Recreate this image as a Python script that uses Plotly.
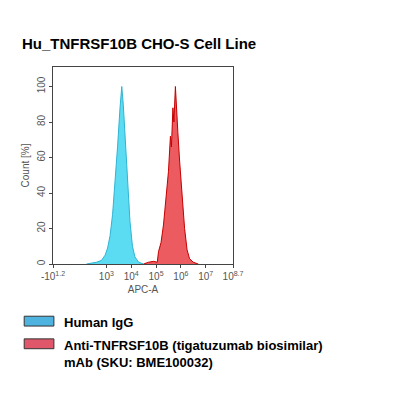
import plotly.graph_objects as go

# x is in decade units of the biexponential display (3 -> 10^3)
igg_x = [2.2, 2.4, 2.6, 2.8, 2.95, 3.05, 3.15, 3.25, 3.35, 3.45, 3.55, 3.62, 3.68, 3.75, 3.85, 3.95, 4.05, 4.15, 4.3, 4.5]
igg_y = [0, 0.5, 1, 2, 5, 9, 16, 28, 45, 66, 88, 100, 90, 72, 45, 24, 10, 4, 1, 0]

anti_x = [4.5, 4.7, 4.9, 5.05, 5.1, 5.2, 5.3, 5.4, 5.5, 5.58, 5.62, 5.68, 5.72, 5.78, 5.82, 5.88, 5.95, 6.05, 6.15, 6.25, 6.35, 6.5, 6.7]
anti_y = [0, 1, 1.5, 1, 7, 12, 22, 36, 52, 72, 66, 88, 80, 100, 86, 74, 58, 38, 20, 8, 3, 1, 0]

tick_vals = [0.85, 3, 4, 5, 6, 7, 8.1]
tick_text = ["-10<sup>1.2</sup>", "10<sup>3</sup>", "10<sup>4</sup>", "10<sup>5</sup>",
             "10<sup>6</sup>", "10<sup>7</sup>", "10<sup>8.7</sup>"]

legend_names = ["Human IgG", "Anti-TNFRSF10B (tigatuzumab biosimilar)<br>mAb (SKU: BME100032)"]
legend_colors = ["#4fb3e0", "#e0566a"]

fig = go.Figure()
fig.add_trace(go.Scatter(x=igg_x, y=igg_y, fill="tozeroy", mode="lines",
                         line=dict(color="#2fb4d4", width=1), fillcolor="rgba(64,214,240,0.85)"))
fig.add_trace(go.Scatter(x=anti_x, y=anti_y, fill="tozeroy", mode="lines",
                         line=dict(color="#c40000", width=1), fillcolor="rgba(230,50,55,0.8)"))

# page body adds 8px, margins compensate
fig.update_layout(
    width=400, height=400, showlegend=False,
    margin=dict(l=45, r=175, t=59, b=144, autoexpand=False),
    plot_bgcolor="white", paper_bgcolor="white",
    font=dict(family="Liberation Sans", color="#555"),
    title=dict(text="<b>Hu_TNFRSF10B CHO-S Cell Line</b>", x=0.035, y=0.925, xanchor="left",
               yanchor="top", font=dict(size=15, color="black", family="Liberation Sans")),
)
fig.update_xaxes(range=[0.85, 8.1], tickvals=tick_vals, ticktext=tick_text, showgrid=False,
                 zeroline=False, showline=True, linecolor="#444", mirror=True, ticks="outside",
                 ticklen=3, tickfont=dict(size=10, color="#555"),
                 title=dict(text="APC-A", font=dict(size=10, color="#555"), standoff=4))
fig.update_yaxes(range=[0, 111], tickvals=[0, 20, 40, 60, 80, 100], showgrid=False,
                 zeroline=False, showline=True, linecolor="#444", mirror=True, ticks="outside",
                 ticklen=3, tickangle=-90, tickfont=dict(size=10, color="#555"),
                 title=dict(text="Count [%]", font=dict(size=10, color="#555"), standoff=4))

legend_y = [-0.29, -0.405]
for name, color, ly in zip(legend_names, legend_colors, legend_y):
    fig.add_shape(type="rect", xref="paper", yref="paper",
                  x0=-0.16, x1=0.005, y0=ly - 0.025, y1=ly + 0.025,
                  fillcolor=color, line=dict(color="#333", width=1))
    fig.add_annotation(text="<b>" + name + "</b>", xref="paper", yref="paper",
                       x=0.05, y=ly + 0.04, xanchor="left", yanchor="top", align="left",
                       showarrow=False, font=dict(size=13, color="black", family="Liberation Sans"))

fig.write_html("out.html")
